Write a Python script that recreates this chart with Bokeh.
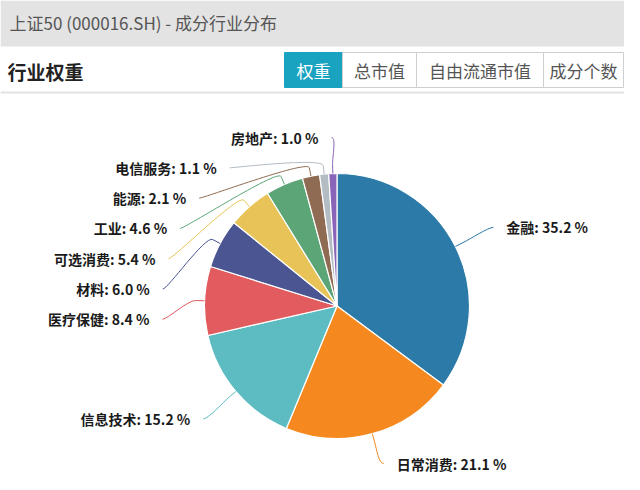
import numpy as np
from bokeh.plotting import figure
from bokeh.models import Range1d
from bokeh.embed import file_html
from bokeh.resources import INLINE
from bokeh.core.properties import value

# ---------------- data ----------------
title = "上证50 (000016.SH) - 成分行业分布"
section = "行业权重"
buttons = ["权重", "总市值", "自由流通市值", "成分个数"]
industries = ["金融", "日常消费", "信息技术", "医疗保健", "材料",
              "可选消费", "工业", "能源", "电信服务", "房地产"]
weights = [35.2, 21.1, 15.2, 8.4, 6.0, 5.4, 4.6, 2.1, 1.1, 1.0]
colors = ["#2b7aa8", "#f5891f", "#5dbcc1", "#e25b5f", "#4a5592",
          "#e8c458", "#5ba577", "#8e6b52", "#b3bbc3", "#8a64b8"]

# ---------------- layout ----------------
W, H = 624, 474
FONT = "Noto Sans CJK SC"


def Y(y):
    """screen y (downwards) -> data y"""
    return H - np.asarray(y, dtype=float)


p = figure(width=W, height=H, x_range=Range1d(0, W), y_range=Range1d(0, H),
           output_backend="svg", toolbar_location=None, min_border=0,
           x_axis_location=None, y_axis_location=None)
p.grid.visible = False
p.outline_line_color = None
p.background_fill_color = "white"
p.border_fill_color = "white"

# header band
p.quad(left=[0], right=[W], top=Y([0]), bottom=Y([46]),
       fill_color="#e3e3e3", line_color=None)
p.text(x=[9], y=Y([22]), text=[title], text_font=value(FONT),
       text_font_size="17px", text_color="#555555",
       text_baseline="middle", text_align="left")

# section title
p.text(x=[7], y=Y([71]), text=[section], text_font=value(FONT),
       text_font_size="19px", text_font_style="bold", text_color="#222222",
       text_baseline="middle", text_align="left")

# separator
p.quad(left=[0], right=[W], top=Y([91]), bottom=Y([93]),
       fill_color="#e2e2e2", line_color=None)

# buttons
edges = [284, 342, 416, 543, 623]
btop, bbot = 52, 87
for i, b in enumerate(buttons):
    active = i == 0
    p.quad(left=[edges[i]], right=[edges[i + 1]], top=Y([btop]), bottom=Y([bbot]),
           fill_color="#1aa3c1" if active else "white",
           line_color="#1aa3c1" if active else "#cfcfcf", line_width=1)
    p.text(x=[(edges[i] + edges[i + 1]) / 2], y=Y([(btop + bbot) / 2]), text=[b],
           text_font=value(FONT), text_font_size="17px",
           text_color="white" if active else "#555555",
           text_baseline="middle", text_align="center")

# ---------------- pie ----------------
cx, cy, r = 336.5, 305.5, 132.5
label_r = 175.0
top_bound = 137.0
bottom_bound = 463.0
spacing = 30.3
gap = 13.0

w = np.array(weights, dtype=float)
total = w.sum()
cum = np.concatenate([[0.0], np.cumsum(w)]) / total
a0 = cum[:-1] * 2 * np.pi
a1 = cum[1:] * 2 * np.pi
mid = (a0 + a1) / 2

p.wedge(x=cx, y=Y(cy), radius=r,
        start_angle=list(np.pi / 2 - a0), end_angle=list(np.pi / 2 - a1),
        direction="clock", fill_color=colors, line_color="white", line_width=1.2)

# label placement (labels pushed apart, clamped to top / bottom bounds)
nat_y = cy - np.cos(mid) * label_r
left = mid > np.pi
final_y = nat_y.copy()
clamped = np.zeros(len(w), dtype=bool)
for side in (True, False):
    idx = [i for i in np.argsort(nat_y) if left[i] == side]
    prev = None
    for i in idx:
        yy = nat_y[i]
        if prev is None:
            if yy < top_bound:
                yy = top_bound
                clamped[i] = True
        else:
            yy = max(yy, prev + spacing)
        if yy > bottom_bound:
            yy = bottom_bound
            clamped[i] = True
        final_y[i] = yy
        prev = yy

lab_x = np.zeros(len(w))
for i in range(len(w)):
    yy = nat_y[i] if clamped[i] else final_y[i]
    dx = np.sqrt(max(label_r ** 2 - (yy - cy) ** 2, 0.0))
    lab_x[i] = cx - dx if left[i] else cx + dx

conn_off = (label_r - r) / 5
touch_x = cx + np.sin(mid) * r
touch_y = cy - np.cos(mid) * r
brk_x = cx + np.sin(mid) * (r + conn_off)
brk_y = cy - np.cos(mid) * (r + conn_off)
c0x = np.where(left, lab_x + 5, lab_x - 5)
c0y = final_y
c1x = 2 * brk_x - touch_x
c1y = 2 * brk_y - touch_y

p.bezier(x0=lab_x, y0=Y(final_y), x1=brk_x, y1=Y(brk_y),
         cx0=c0x, cy0=Y(c0y), cx1=c1x, cy1=Y(c1y),
         line_color=colors, line_width=1)
p.segment(x0=brk_x, y0=Y(brk_y), x1=touch_x, y1=Y(touch_y),
          line_color=colors, line_width=1)

labels = [f"{n}: {v:.1f} %" for n, v in zip(industries, weights)]
tx = np.where(left, lab_x - gap, lab_x + gap)
for i in range(len(w)):
    p.text(x=[tx[i]], y=Y([final_y[i]]), text=[labels[i]],
           text_font=value(FONT), text_font_size="14px", text_font_style="bold",
           text_color="#1a1a1a", text_baseline="middle",
           text_align="right" if left[i] else "left")

open("out.html", "w").write(file_html(p, INLINE))
